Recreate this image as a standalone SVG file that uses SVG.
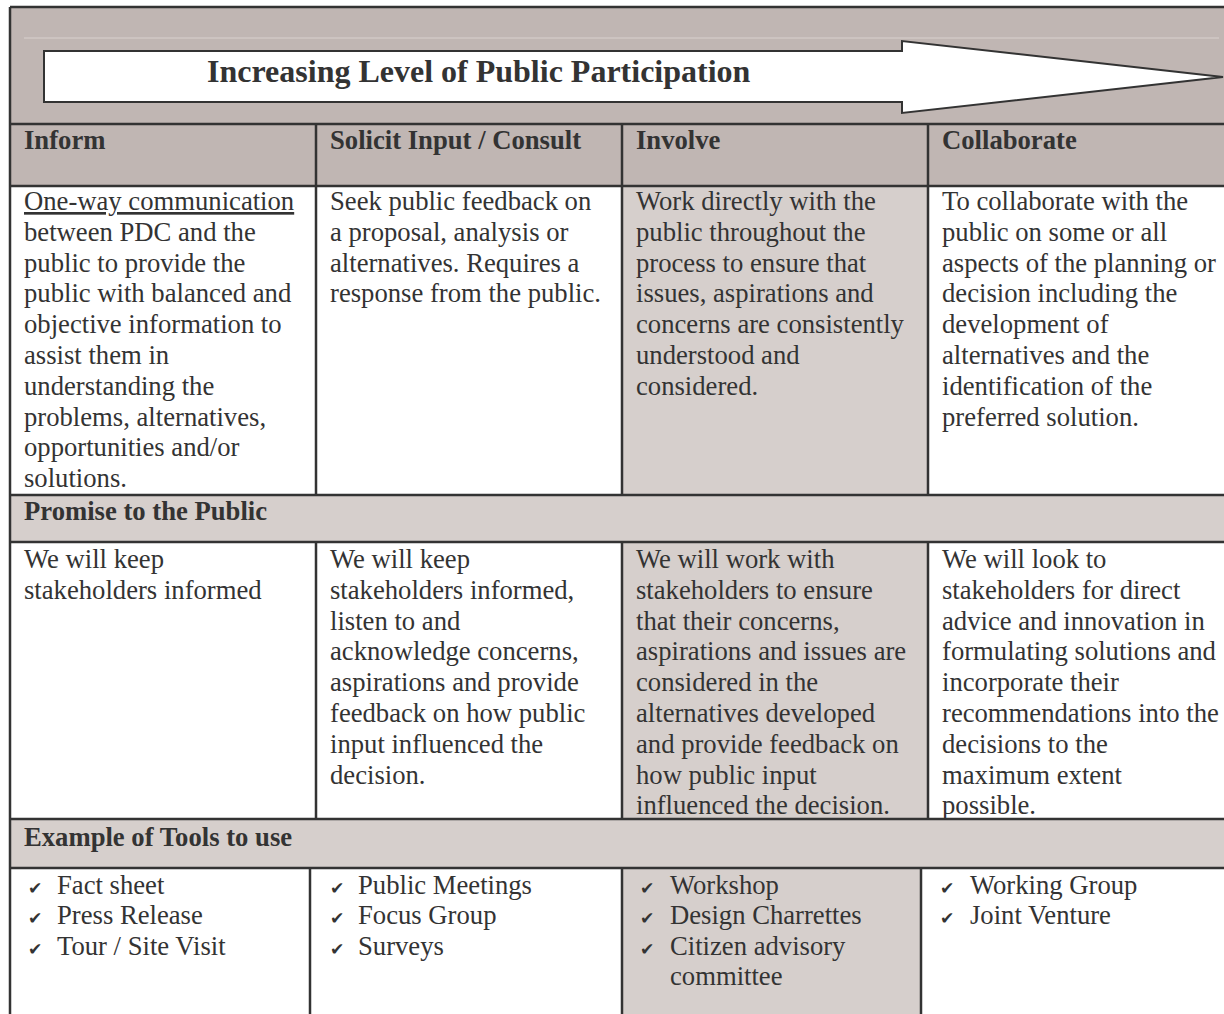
<svg xmlns="http://www.w3.org/2000/svg" width="1224" height="1014" viewBox="0 0 1224 1014">
<style>
.t{font-family:"Liberation Serif","Times New Roman",serif;font-size:26.67px;fill:#333}
.b{font-weight:bold}
.ttl{font-family:"Liberation Serif","Times New Roman",serif;font-size:32px;font-weight:bold;fill:#333}
.ln{stroke:#333;stroke-width:2.5;fill:none}
.dk{fill:#c0b6b3}
.lt{fill:#d6cfcc}
.ck{font-family:"DejaVu Sans",sans-serif;font-size:17px;fill:#333}
</style>
<rect x="0" y="0" width="1224" height="1014" fill="#fff"/>
<g id="header">
<rect class="dk" x="10" y="7" width="1214" height="179"/>
<line x1="24" y1="38" x2="1219" y2="38" stroke="#d9d1ce" stroke-width="1"/>
</g>
<g id="arrow">
<polygon points="44,51 902,51 902,41 1223,77 902,113 902,102 44,102" fill="#fff" stroke="#333" stroke-width="2"/>
<text class="ttl" x="207" y="82">Increasing Level of Public Participation</text>
</g>
<g id="shading">
<rect class="lt" x="622" y="186" width="306" height="309"/>
<rect class="lt" x="10" y="495" width="1214" height="47"/>
<rect class="lt" x="622" y="542" width="306" height="277"/>
<rect class="lt" x="10" y="819" width="1214" height="49"/>
<rect class="lt" x="622" y="868" width="299" height="146"/>
</g>
<g id="connectors">
<line class="ln" x1="10" y1="7" x2="1224" y2="7"/>
<line class="ln" x1="10" y1="7" x2="10" y2="1014"/>
<line class="ln" x1="10" y1="124" x2="1224" y2="124"/>
<line class="ln" x1="10" y1="186" x2="1224" y2="186"/>
<line class="ln" x1="10" y1="495" x2="1224" y2="495"/>
<line class="ln" x1="10" y1="542" x2="1224" y2="542"/>
<line class="ln" x1="10" y1="819" x2="1224" y2="819"/>
<line class="ln" x1="10" y1="868" x2="1224" y2="868"/>
<line class="ln" x1="316" y1="124" x2="316" y2="495"/>
<line class="ln" x1="622" y1="124" x2="622" y2="495"/>
<line class="ln" x1="928" y1="124" x2="928" y2="495"/>
<line class="ln" x1="316" y1="542" x2="316" y2="819"/>
<line class="ln" x1="622" y1="542" x2="622" y2="819"/>
<line class="ln" x1="928" y1="542" x2="928" y2="819"/>
<line class="ln" x1="310" y1="868" x2="310" y2="1014"/>
<line class="ln" x1="622" y1="868" x2="622" y2="1014"/>
<line class="ln" x1="921" y1="868" x2="921" y2="1014"/>
</g>
<g id="col-headers">
<text class="t b" x="24" y="149">Inform</text>
<text class="t b" x="330" y="149">Solicit Input / Consult</text>
<text class="t b" x="636" y="149">Involve</text>
<text class="t b" x="942" y="149">Collaborate</text>
</g>
<g id="inform-desc">
<text class="t" x="24" y="210"><tspan text-decoration="underline">One-way communication</tspan><tspan x="24" dy="30.8">between PDC and the</tspan><tspan x="24" dy="30.8">public to provide the</tspan><tspan x="24" dy="30.8">public with balanced and</tspan><tspan x="24" dy="30.8">objective information to</tspan><tspan x="24" dy="30.8">assist them in</tspan><tspan x="24" dy="30.8">understanding the</tspan><tspan x="24" dy="30.8">problems, alternatives,</tspan><tspan x="24" dy="30.8">opportunities and/or</tspan><tspan x="24" dy="30.8">solutions.</tspan></text>
</g>
<g id="consult-desc">
<text class="t" x="330" y="210">Seek public feedback on<tspan x="330" dy="30.8">a proposal, analysis or</tspan><tspan x="330" dy="30.8">alternatives. Requires a</tspan><tspan x="330" dy="30.8">response from the public.</tspan></text>
</g>
<g id="involve-desc">
<text class="t" x="636" y="210">Work directly with the<tspan x="636" dy="30.8">public throughout the</tspan><tspan x="636" dy="30.8">process to ensure that</tspan><tspan x="636" dy="30.8">issues, aspirations and</tspan><tspan x="636" dy="30.8">concerns are consistently</tspan><tspan x="636" dy="30.8">understood and</tspan><tspan x="636" dy="30.8">considered.</tspan></text>
</g>
<g id="collaborate-desc">
<text class="t" x="942" y="210">To collaborate with the<tspan x="942" dy="30.8">public on some or all</tspan><tspan x="942" dy="30.8">aspects of the planning or</tspan><tspan x="942" dy="30.8">decision including the</tspan><tspan x="942" dy="30.8">development of</tspan><tspan x="942" dy="30.8">alternatives and the</tspan><tspan x="942" dy="30.8">identification of the</tspan><tspan x="942" dy="30.8">preferred solution.</tspan></text>
</g>
<g id="promise-header">
<text class="t b" x="24" y="520">Promise to the Public</text>
</g>
<g id="inform-promise">
<text class="t" x="24" y="568">We will keep<tspan x="24" dy="30.8">stakeholders informed</tspan></text>
</g>
<g id="consult-promise">
<text class="t" x="330" y="568">We will keep<tspan x="330" dy="30.8">stakeholders informed,</tspan><tspan x="330" dy="30.8">listen to and</tspan><tspan x="330" dy="30.8">acknowledge concerns,</tspan><tspan x="330" dy="30.8">aspirations and provide</tspan><tspan x="330" dy="30.8">feedback on how public</tspan><tspan x="330" dy="30.8">input influenced the</tspan><tspan x="330" dy="30.8">decision.</tspan></text>
</g>
<g id="involve-promise">
<text class="t" x="636" y="568">We will work with<tspan x="636" dy="30.8">stakeholders to ensure</tspan><tspan x="636" dy="30.8">that their concerns,</tspan><tspan x="636" dy="30.8">aspirations and issues are</tspan><tspan x="636" dy="30.8">considered in the</tspan><tspan x="636" dy="30.8">alternatives developed</tspan><tspan x="636" dy="30.8">and provide feedback on</tspan><tspan x="636" dy="30.8">how public input</tspan><tspan x="636" dy="30.8">influenced the decision.</tspan></text>
</g>
<g id="collaborate-promise">
<text class="t" x="942" y="568">We will look to<tspan x="942" dy="30.8">stakeholders for direct</tspan><tspan x="942" dy="30.8">advice and innovation in</tspan><tspan x="942" dy="30.8">formulating solutions and</tspan><tspan x="942" dy="30.8">incorporate their</tspan><tspan x="942" dy="30.8">recommendations into the</tspan><tspan x="942" dy="30.8">decisions to the</tspan><tspan x="942" dy="30.8">maximum extent</tspan><tspan x="942" dy="30.8">possible.</tspan></text>
</g>
<g id="tools-header">
<text class="t b" x="24" y="846">Example of Tools to use</text>
</g>
<g id="inform-tools">
<text class="ck" x="28" y="894">✔</text><text class="t" x="57" y="894">Fact sheet</text>
<text class="ck" x="28" y="924">✔</text><text class="t" x="57" y="924">Press Release</text>
<text class="ck" x="28" y="955">✔</text><text class="t" x="57" y="955">Tour / Site Visit</text>
</g>
<g id="consult-tools">
<text class="ck" x="330" y="894">✔</text><text class="t" x="358" y="894">Public Meetings</text>
<text class="ck" x="330" y="924">✔</text><text class="t" x="358" y="924">Focus Group</text>
<text class="ck" x="330" y="955">✔</text><text class="t" x="358" y="955">Surveys</text>
</g>
<g id="involve-tools">
<text class="ck" x="640" y="894">✔</text><text class="t" x="670" y="894">Workshop</text>
<text class="ck" x="640" y="924">✔</text><text class="t" x="670" y="924">Design Charrettes</text>
<text class="ck" x="640" y="955">✔</text><text class="t" x="670" y="955">Citizen advisory</text>
<text class="t" x="670" y="985">committee</text>
</g>
<g id="collaborate-tools">
<text class="ck" x="940" y="894">✔</text><text class="t" x="970" y="894">Working Group</text>
<text class="ck" x="940" y="924">✔</text><text class="t" x="970" y="924">Joint Venture</text>
</g>
</svg>
